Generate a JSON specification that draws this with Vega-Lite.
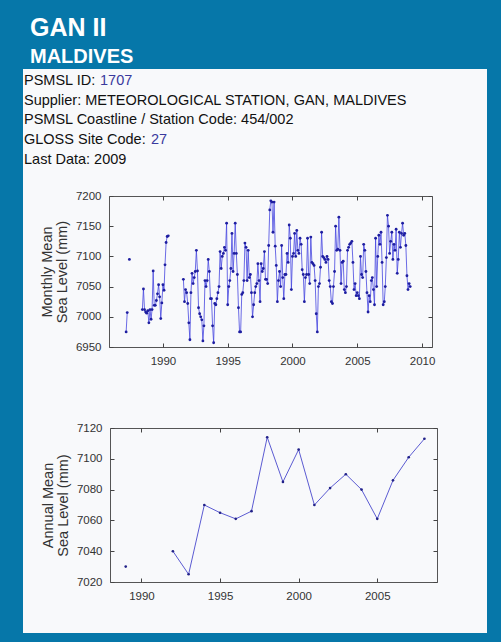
{
  "$schema": "https://vega.github.io/schema/vega-lite/v6.json",
  "padding": 0,
  "spacing": 0,
  "background": "#f8f9fb",
  "config": {
    "view": {"stroke": null},
    "font": "Liberation Sans",
    "axis": {
      "grid": false, "domain": false,
      "labelFont": "Liberation Sans", "labelFontSize": 11.5, "labelColor": "#333",
      "tickColor": "#444", "tickSize": -4, "labelPadding": 12,
      "titleFont": "Liberation Sans", "titleFontSize": 14.5, "titleFontWeight": "normal", "titleColor": "#333", "titleLineHeight": 15
    }
  },
  "datasets": {
    "info": [
      {"line": 1, "label": "PSMSL ID:", "link": "1707"},
      {"line": 2, "label": "Supplier: METEOROLOGICAL STATION, GAN, MALDIVES"},
      {"line": 3, "label": "PSMSL Coastline / Station Code: 454/002"},
      {"line": 4, "label": "GLOSS Site Code:", "link": "27"},
      {"line": 5, "label": "Last Data: 2009"}
    ],
    "annual": [
      {"year": 1989, "v": 7030, "s": 1},
      {"year": 1992, "v": 7040, "s": 2}, {"year": 1993, "v": 7025, "s": 2}, {"year": 1994, "v": 7070, "s": 2},
      {"year": 1995, "v": 7065, "s": 2}, {"year": 1996, "v": 7061, "s": 2}, {"year": 1997, "v": 7066, "s": 2},
      {"year": 1998, "v": 7114, "s": 2}, {"year": 1999, "v": 7085, "s": 2}, {"year": 2000, "v": 7106, "s": 2},
      {"year": 2001, "v": 7070, "s": 2}, {"year": 2002, "v": 7081, "s": 2}, {"year": 2003, "v": 7090, "s": 2},
      {"year": 2004, "v": 7080, "s": 2}, {"year": 2005, "v": 7061, "s": 2}, {"year": 2006, "v": 7086, "s": 2},
      {"year": 2007, "v": 7101, "s": 2}, {"year": 2008, "v": 7113, "s": 2}
    ],
    "monthly": [
      {"d": "1987-03", "v": 6975, "s": 1}, {"d": "1987-04", "v": 7007, "s": 1},
      {"d": "1987-06", "v": 7095, "s": 2},
      {"d": "1988-06", "v": 7012, "s": 3}, {"d": "1988-07", "v": 7046, "s": 3}, {"d": "1988-08", "v": 7012, "s": 3}, {"d": "1988-09", "v": 7008, "s": 3}, {"d": "1988-10", "v": 7006, "s": 3}, {"d": "1988-11", "v": 7010, "s": 3}, {"d": "1988-12", "v": 6990, "s": 3},
      {"d": "1989-01", "v": 7012, "s": 3}, {"d": "1989-02", "v": 6996, "s": 3}, {"d": "1989-03", "v": 7012, "s": 3}, {"d": "1989-04", "v": 7076, "s": 3}, {"d": "1989-05", "v": 7019, "s": 3}, {"d": "1989-06", "v": 7019, "s": 3}, {"d": "1989-07", "v": 7027, "s": 3}, {"d": "1989-08", "v": 7038, "s": 3}, {"d": "1989-09", "v": 7053, "s": 3}, {"d": "1989-10", "v": 7033, "s": 3}, {"d": "1989-11", "v": 6997, "s": 3}, {"d": "1989-12", "v": 7023, "s": 3},
      {"d": "1990-01", "v": 7053, "s": 3}, {"d": "1990-02", "v": 7044, "s": 3}, {"d": "1990-03", "v": 7086, "s": 3}, {"d": "1990-04", "v": 7123, "s": 3}, {"d": "1990-05", "v": 7133, "s": 3}, {"d": "1990-06", "v": 7134, "s": 3},
      {"d": "1991-08", "v": 7062, "s": 4}, {"d": "1991-09", "v": 7025, "s": 4}, {"d": "1991-10", "v": 7045, "s": 4}, {"d": "1991-11", "v": 7040, "s": 4}, {"d": "1991-12", "v": 7022, "s": 4},
      {"d": "1992-01", "v": 6990, "s": 4}, {"d": "1992-02", "v": 6962, "s": 4}, {"d": "1992-03", "v": 7040, "s": 4}, {"d": "1992-04", "v": 7072, "s": 4}, {"d": "1992-05", "v": 7055, "s": 4}, {"d": "1992-06", "v": 7065, "s": 4}, {"d": "1992-07", "v": 7075, "s": 4}, {"d": "1992-08", "v": 7110, "s": 4}, {"d": "1992-09", "v": 7076, "s": 4}, {"d": "1992-10", "v": 7015, "s": 4}, {"d": "1992-11", "v": 7005, "s": 4}, {"d": "1992-12", "v": 7000, "s": 4},
      {"d": "1993-01", "v": 6995, "s": 4}, {"d": "1993-02", "v": 6960, "s": 4}, {"d": "1993-03", "v": 6985, "s": 4}, {"d": "1993-04", "v": 7060, "s": 4}, {"d": "1993-05", "v": 7050, "s": 4}, {"d": "1993-06", "v": 7060, "s": 4}, {"d": "1993-07", "v": 7095, "s": 4}, {"d": "1993-08", "v": 7075, "s": 4}, {"d": "1993-09", "v": 7030, "s": 4}, {"d": "1993-10", "v": 7030, "s": 4}, {"d": "1993-11", "v": 6985, "s": 4}, {"d": "1993-12", "v": 6957, "s": 4},
      {"d": "1994-01", "v": 7022, "s": 4}, {"d": "1994-02", "v": 7020, "s": 4}, {"d": "1994-03", "v": 7030, "s": 4}, {"d": "1994-04", "v": 7040, "s": 4}, {"d": "1994-05", "v": 7050, "s": 4}, {"d": "1994-06", "v": 7108, "s": 4}, {"d": "1994-07", "v": 7080, "s": 4}, {"d": "1994-08", "v": 7100, "s": 4}, {"d": "1994-09", "v": 7105, "s": 4}, {"d": "1994-10", "v": 7115, "s": 4}, {"d": "1994-11", "v": 7110, "s": 4}, {"d": "1994-12", "v": 7155, "s": 4},
      {"d": "1995-01", "v": 7020, "s": 4}, {"d": "1995-02", "v": 7050, "s": 4}, {"d": "1995-03", "v": 7060, "s": 4}, {"d": "1995-04", "v": 7080, "s": 4}, {"d": "1995-05", "v": 7138, "s": 4}, {"d": "1995-06", "v": 7075, "s": 4}, {"d": "1995-07", "v": 7105, "s": 4}, {"d": "1995-08", "v": 7155, "s": 4}, {"d": "1995-09", "v": 7105, "s": 4}, {"d": "1995-10", "v": 7070, "s": 4}, {"d": "1995-11", "v": 7015, "s": 4}, {"d": "1995-12", "v": 6975, "s": 4},
      {"d": "1996-01", "v": 6975, "s": 4}, {"d": "1996-02", "v": 7037, "s": 4}, {"d": "1996-03", "v": 7040, "s": 4}, {"d": "1996-04", "v": 7060, "s": 4}, {"d": "1996-05", "v": 7122, "s": 4}, {"d": "1996-06", "v": 7115, "s": 4}, {"d": "1996-07", "v": 7060, "s": 4}, {"d": "1996-08", "v": 7110, "s": 4}, {"d": "1996-09", "v": 7065, "s": 4}, {"d": "1996-10", "v": 7070, "s": 4}, {"d": "1996-11", "v": 7040, "s": 4}, {"d": "1996-12", "v": 7000, "s": 4},
      {"d": "1997-01", "v": 7020, "s": 4}, {"d": "1997-02", "v": 7040, "s": 4}, {"d": "1997-03", "v": 7050, "s": 4}, {"d": "1997-04", "v": 7055, "s": 4}, {"d": "1997-05", "v": 7088, "s": 4}, {"d": "1997-06", "v": 7060, "s": 4}, {"d": "1997-07", "v": 7025, "s": 4}, {"d": "1997-08", "v": 7088, "s": 4}, {"d": "1997-09", "v": 7075, "s": 4}, {"d": "1997-10", "v": 7080, "s": 4}, {"d": "1997-11", "v": 7108, "s": 4}, {"d": "1997-12", "v": 7062, "s": 4},
      {"d": "1998-01", "v": 7062, "s": 4}, {"d": "1998-02", "v": 7055, "s": 4}, {"d": "1998-03", "v": 7118, "s": 4}, {"d": "1998-04", "v": 7177, "s": 4}, {"d": "1998-05", "v": 7192, "s": 4}, {"d": "1998-06", "v": 7190, "s": 4}, {"d": "1998-07", "v": 7140, "s": 4}, {"d": "1998-08", "v": 7190, "s": 4}, {"d": "1998-09", "v": 7117, "s": 4}, {"d": "1998-10", "v": 7085, "s": 4}, {"d": "1998-11", "v": 7025, "s": 4}, {"d": "1998-12", "v": 7060, "s": 4},
      {"d": "1999-01", "v": 7075, "s": 4}, {"d": "1999-02", "v": 7050, "s": 4}, {"d": "1999-03", "v": 7118, "s": 4}, {"d": "1999-04", "v": 7065, "s": 4}, {"d": "1999-05", "v": 7030, "s": 4}, {"d": "1999-06", "v": 7070, "s": 4}, {"d": "1999-07", "v": 7070, "s": 4}, {"d": "1999-08", "v": 7105, "s": 4}, {"d": "1999-09", "v": 7090, "s": 4}, {"d": "1999-10", "v": 7152, "s": 4}, {"d": "1999-11", "v": 7130, "s": 4}, {"d": "1999-12", "v": 7045, "s": 4},
      {"d": "2000-01", "v": 7100, "s": 4}, {"d": "2000-02", "v": 7105, "s": 4}, {"d": "2000-03", "v": 7138, "s": 4}, {"d": "2000-04", "v": 7100, "s": 4}, {"d": "2000-05", "v": 7143, "s": 4}, {"d": "2000-06", "v": 7110, "s": 4}, {"d": "2000-07", "v": 7105, "s": 4}, {"d": "2000-08", "v": 7130, "s": 4}, {"d": "2000-09", "v": 7120, "s": 4}, {"d": "2000-10", "v": 7078, "s": 4}, {"d": "2000-11", "v": 7070, "s": 4}, {"d": "2000-12", "v": 7025, "s": 4},
      {"d": "2001-01", "v": 7065, "s": 4}, {"d": "2001-02", "v": 7070, "s": 4}, {"d": "2001-03", "v": 7130, "s": 4}, {"d": "2001-04", "v": 7070, "s": 4}, {"d": "2001-05", "v": 7055, "s": 4}, {"d": "2001-06", "v": 7132, "s": 4}, {"d": "2001-07", "v": 7090, "s": 4}, {"d": "2001-08", "v": 7088, "s": 4}, {"d": "2001-09", "v": 7085, "s": 4}, {"d": "2001-10", "v": 7060, "s": 4}, {"d": "2001-11", "v": 7005, "s": 4}, {"d": "2001-12", "v": 6975, "s": 4},
      {"d": "2002-01", "v": 7050, "s": 4}, {"d": "2002-02", "v": 7055, "s": 4}, {"d": "2002-03", "v": 7082, "s": 4}, {"d": "2002-04", "v": 7140, "s": 4}, {"d": "2002-05", "v": 7100, "s": 4}, {"d": "2002-06", "v": 7098, "s": 4}, {"d": "2002-07", "v": 7095, "s": 4}, {"d": "2002-08", "v": 7090, "s": 4}, {"d": "2002-09", "v": 7100, "s": 4}, {"d": "2002-10", "v": 7095, "s": 4}, {"d": "2002-11", "v": 7060, "s": 4}, {"d": "2002-12", "v": 7050, "s": 4},
      {"d": "2003-01", "v": 7025, "s": 4}, {"d": "2003-02", "v": 7022, "s": 4}, {"d": "2003-03", "v": 7050, "s": 4}, {"d": "2003-04", "v": 7075, "s": 4}, {"d": "2003-05", "v": 7150, "s": 4}, {"d": "2003-06", "v": 7110, "s": 4}, {"d": "2003-07", "v": 7112, "s": 4}, {"d": "2003-08", "v": 7165, "s": 4}, {"d": "2003-09", "v": 7110, "s": 4}, {"d": "2003-10", "v": 7055, "s": 4}, {"d": "2003-11", "v": 7090, "s": 4}, {"d": "2003-12", "v": 7092, "s": 4},
      {"d": "2004-01", "v": 7045, "s": 4}, {"d": "2004-02", "v": 7040, "s": 4}, {"d": "2004-03", "v": 7050, "s": 4}, {"d": "2004-04", "v": 7110, "s": 4}, {"d": "2004-05", "v": 7115, "s": 4}, {"d": "2004-06", "v": 7120, "s": 4}, {"d": "2004-07", "v": 7122, "s": 4}, {"d": "2004-08", "v": 7125, "s": 4}, {"d": "2004-09", "v": 7090, "s": 4}, {"d": "2004-10", "v": 7045, "s": 4}, {"d": "2004-11", "v": 7055, "s": 4}, {"d": "2004-12", "v": 7035, "s": 4},
      {"d": "2005-01", "v": 7040, "s": 4}, {"d": "2005-02", "v": 7035, "s": 4}, {"d": "2005-03", "v": 7030, "s": 4}, {"d": "2005-04", "v": 7100, "s": 4}, {"d": "2005-05", "v": 7070, "s": 4}, {"d": "2005-06", "v": 7065, "s": 4}, {"d": "2005-07", "v": 7120, "s": 4}, {"d": "2005-08", "v": 7110, "s": 4}, {"d": "2005-09", "v": 7075, "s": 4}, {"d": "2005-10", "v": 7040, "s": 4}, {"d": "2005-11", "v": 7008, "s": 4}, {"d": "2005-12", "v": 7035, "s": 4},
      {"d": "2006-01", "v": 7025, "s": 4}, {"d": "2006-02", "v": 7060, "s": 4}, {"d": "2006-03", "v": 7065, "s": 4}, {"d": "2006-04", "v": 7045, "s": 4}, {"d": "2006-05", "v": 7020, "s": 4}, {"d": "2006-06", "v": 7130, "s": 4}, {"d": "2006-07", "v": 7050, "s": 4}, {"d": "2006-08", "v": 7100, "s": 4}, {"d": "2006-09", "v": 7135, "s": 4}, {"d": "2006-10", "v": 7120, "s": 4}, {"d": "2006-11", "v": 7140, "s": 4}, {"d": "2006-12", "v": 7090, "s": 4},
      {"d": "2007-01", "v": 7020, "s": 4}, {"d": "2007-02", "v": 7025, "s": 4}, {"d": "2007-03", "v": 7050, "s": 4}, {"d": "2007-04", "v": 7098, "s": 4}, {"d": "2007-05", "v": 7168, "s": 4}, {"d": "2007-06", "v": 7150, "s": 4}, {"d": "2007-07", "v": 7105, "s": 4}, {"d": "2007-08", "v": 7125, "s": 4}, {"d": "2007-09", "v": 7140, "s": 4}, {"d": "2007-10", "v": 7095, "s": 4}, {"d": "2007-11", "v": 7120, "s": 4}, {"d": "2007-12", "v": 7110, "s": 4},
      {"d": "2008-01", "v": 7145, "s": 4}, {"d": "2008-02", "v": 7072, "s": 4}, {"d": "2008-03", "v": 7095, "s": 4}, {"d": "2008-04", "v": 7140, "s": 4}, {"d": "2008-05", "v": 7115, "s": 4}, {"d": "2008-06", "v": 7138, "s": 4}, {"d": "2008-07", "v": 7155, "s": 4}, {"d": "2008-08", "v": 7135, "s": 4}, {"d": "2008-09", "v": 7138, "s": 4}, {"d": "2008-10", "v": 7118, "s": 4}, {"d": "2008-11", "v": 7068, "s": 4}, {"d": "2008-12", "v": 7045, "s": 4},
      {"d": "2009-01", "v": 7055, "s": 4}, {"d": "2009-02", "v": 7050, "s": 4}
    ]
  },
  "vconcat": [
    {
      "width": 501, "height": 69,
      "view": {"fill": "#0677a9", "stroke": null},
      "data": {"values": []},
      "mark": "point",
      "encoding": {},
      "title": {
        "text": "GAN II", "subtitle": "MALDIVES",
        "anchor": "start", "orient": "top", "offset": -67, "dx": 30,
        "font": "Liberation Sans", "fontSize": 25, "fontWeight": "bold", "color": "#ffffff",
        "subtitleFont": "Liberation Sans", "subtitleFontSize": 20, "subtitleFontWeight": "bold", "subtitleColor": "#ffffff",
        "subtitlePadding": 6
      }
    },
    {
      "spacing": 0,
      "hconcat": [
        {"width": 23, "height": 564, "view": {"fill": "#0677a9", "stroke": null}, "data": {"values": []}, "mark": "point", "encoding": {}},
        {
          "spacing": 0,
          "vconcat": [
            {
              "width": 464, "height": 120,
              "data": {"name": "info"},
              "layer": [
                {
                  "mark": {"type": "text", "align": "left", "baseline": "alphabetic", "font": "Liberation Sans", "fontSize": 14.5, "color": "#111111"},
                  "encoding": {
                    "x": {"value": 1},
                    "y": {"field": "line", "type": "quantitative", "scale": {"domain": [0.2, 6.27], "reverse": true, "nice": false, "zero": false}, "axis": null},
                    "text": {"field": "label"}
                  }
                },
                {
                  "transform": [{"filter": "datum.line == 1"}],
                  "mark": {"type": "text", "align": "left", "baseline": "alphabetic", "font": "Liberation Sans", "fontSize": 14.5, "color": "#3a3a9e", "dx": 76},
                  "encoding": {
                    "x": {"value": 1},
                    "y": {"field": "line", "type": "quantitative", "axis": null},
                    "text": {"field": "link"}
                  }
                },
                {
                  "transform": [{"filter": "datum.line == 4"}],
                  "mark": {"type": "text", "align": "left", "baseline": "alphabetic", "font": "Liberation Sans", "fontSize": 14.5, "color": "#3a3a9e", "dx": 127},
                  "encoding": {
                    "x": {"value": 1},
                    "y": {"field": "line", "type": "quantitative", "axis": null},
                    "text": {"field": "link"}
                  }
                }
              ]
            },
            {
              "spacing": 0,
              "hconcat": [
                {"width": 15, "height": 1, "data": {"values": []}, "mark": "point", "encoding": {}},
                {
                  "width": 323, "height": 151,
                  "view": {"stroke": "#555555"},
                  "data": {"name": "monthly"},
                  "layer": [
                    {
                      "mark": {"type": "line", "color": "#4646e0", "strokeWidth": 0.8},
                      "encoding": {
                        "x": {"field": "d", "type": "temporal",
                              "scale": {"type": "utc", "domain": [{"year": 1985, "month": 11, "date": 3, "utc": true}, {"year": 2010, "month": 10, "date": 8, "utc": true}]},
                              "axis": {"orient": "bottom", "title": null, "format": "%Y",
                                       "values": [{"year": 1990, "utc": true}, {"year": 1995, "utc": true}, {"year": 2000, "utc": true}, {"year": 2005, "utc": true}, {"year": 2010, "utc": true}]}},
                        "y": {"field": "v", "type": "quantitative",
                              "scale": {"domain": [6950, 7200], "nice": false, "zero": false},
                              "axis": {"orient": "left", "values": [6950, 7000, 7050, 7100, 7150, 7200], "format": "d",
                                       "title": ["Monthly Mean", "Sea Level (mm)"], "titlePadding": 6}},
                        "detail": {"field": "s", "type": "nominal"}
                      }
                    },
                    {
                      "mark": {"type": "point", "filled": true, "color": "#1e1ea0", "size": 8, "opacity": 1},
                      "encoding": {
                        "x": {"field": "d", "type": "temporal",
                              "axis": {"orient": "top", "title": null, "labels": false,
                                       "values": [{"year": 1990, "utc": true}, {"year": 1995, "utc": true}, {"year": 2000, "utc": true}, {"year": 2005, "utc": true}, {"year": 2010, "utc": true}]}},
                        "y": {"field": "v", "type": "quantitative",
                              "axis": {"orient": "right", "title": null, "labels": false, "values": [6950, 7000, 7050, 7100, 7150, 7200]}}
                      }
                    }
                  ],
                  "resolve": {"axis": {"x": "independent", "y": "independent"}}
                }
              ]
            },
            {"width": 1, "height": 54, "data": {"values": []}, "mark": "point", "encoding": {}},
            {
              "spacing": 0,
              "hconcat": [
                {"width": 16, "height": 1, "data": {"values": []}, "mark": "point", "encoding": {}},
                {
                  "width": 327, "height": 154,
                  "view": {"stroke": "#555555"},
                  "data": {"name": "annual"},
                  "layer": [
                    {
                      "mark": {"type": "line", "color": "#5b5bd2", "strokeWidth": 1},
                      "encoding": {
                        "x": {"field": "year", "type": "quantitative",
                              "scale": {"domain": [1988, 2008.8], "nice": false, "zero": false},
                              "axis": {"orient": "bottom", "title": null, "format": "d", "values": [1990, 1995, 2000, 2005]}},
                        "y": {"field": "v", "type": "quantitative",
                              "scale": {"domain": [7020, 7120], "nice": false, "zero": false},
                              "axis": {"orient": "left", "values": [7020, 7040, 7060, 7080, 7100, 7120], "format": "d",
                                       "title": ["Annual Mean", "Sea Level (mm)"], "titlePadding": 6}},
                        "detail": {"field": "s", "type": "nominal"}
                      }
                    },
                    {
                      "mark": {"type": "point", "filled": true, "color": "#222288", "size": 7, "opacity": 1},
                      "encoding": {
                        "x": {"field": "year", "type": "quantitative",
                              "axis": {"orient": "top", "title": null, "labels": false, "values": [1990, 1995, 2000, 2005]}},
                        "y": {"field": "v", "type": "quantitative",
                              "axis": {"orient": "right", "title": null, "labels": false, "values": [7020, 7040, 7060, 7080, 7100, 7120]}}
                      }
                    }
                  ],
                  "resolve": {"axis": {"x": "independent", "y": "independent"}}
                }
              ]
            }
          ]
        },
        {"width": 14, "height": 564, "view": {"fill": "#0677a9", "stroke": null}, "data": {"values": []}, "mark": "point", "encoding": {}}
      ]
    },
    {"width": 501, "height": 9, "view": {"fill": "#0677a9", "stroke": null}, "data": {"values": []}, "mark": "point", "encoding": {}}
  ]
}
